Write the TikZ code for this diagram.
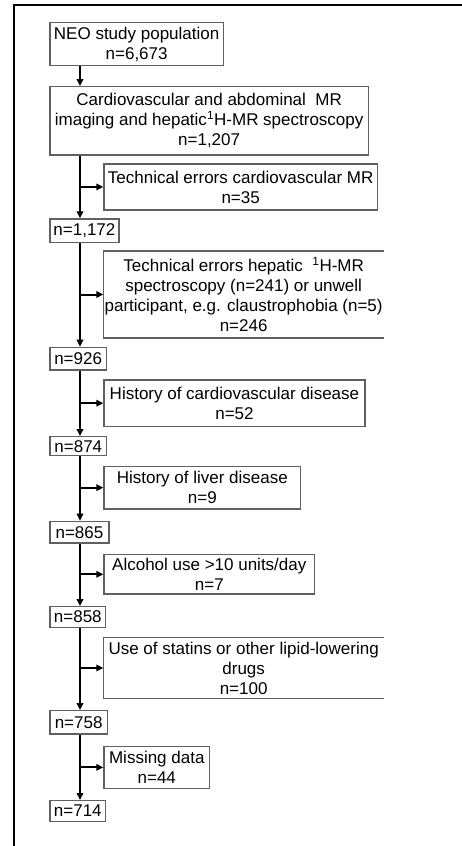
\documentclass[tikz,border=0pt]{standalone}
\usepackage{fontspec}
\setmainfont{Liberation Sans}
\usetikzlibrary{arrows.meta}
\definecolor{boxgray}{HTML}{606060}
\newcommand\boxfont{\fontsize{17}{20}\selectfont}
\begin{document}
\begin{tikzpicture}[x=1pt,y=-1pt,
  box/.style={draw=boxgray, line width=1.3pt, inner sep=0pt, anchor=north west, align=center, font=\boxfont},
  openbox/.style={box, draw=none},
  boxline/.style={draw=boxgray, line width=1.3pt},
  arr/.style={draw=black, line width=2pt, -{Triangle[length=7pt,width=6.5pt]}},
  frameline/.style={draw=black, line width=1.5pt}
]
\useasboundingbox (0,0) rectangle (462,846);
\fill[white] (0,0) rectangle (462,846);
% frame
\coordinate (fl) at (14,5);
\coordinate (fr) at (462,5);
\coordinate (fb) at (14,846);
\draw[frameline] (fr) -- (fl) -- (fb);
% trunk x
\coordinate (t) at (80,0);
% boxes
\node[box, minimum width=173.4pt, minimum height=43.3pt] (b1) at (49.3,21.7) {NEO study population\\n=6,673};
\node[box, minimum width=318.4pt, minimum height=68.3pt] (b2) at (49.3,86) {Cardiovascular and abdominal\ \ MR\\imaging and hepatic\textsuperscript{1}H-MR spectroscopy\\n=1,207};
\node[box, minimum width=273.4pt, minimum height=46pt] (b3) at (103.3,163.3) {Technical errors cardiovascular MR\\n=35};
\node[box, minimum width=69pt, minimum height=23.4pt] (n1) at (49.3,218.3) {n=1,172};
\node[openbox, minimum width=279.4pt, minimum height=85.7pt] (b4) at (103.3,251) {Technical errors hepatic\ \ \textsuperscript{1}H-MR\\spectroscopy (n=241) or unwell\\participant, e.g. claustrophobia (n=5)\\n=246};
\draw[boxline] (b4.north east) -- (b4.north west) -- (b4.south west) -- (b4.south east);
\node[box, minimum width=56.4pt, minimum height=22.6pt] (n2) at (49.3,346.7) {n=926};
\node[box, minimum width=261pt, minimum height=46.4pt] (b5) at (103.3,379.3) {History of cardiovascular disease\\n=52};
\node[box, minimum width=56.7pt, minimum height=19pt] (n3) at (49.3,436) {n=874};
\node[box, minimum width=196.7pt, minimum height=42.6pt] (b6) at (103.3,465.7) {History of liver disease\\n=9};
\node[box, minimum width=59pt, minimum height=21.6pt] (n4) at (49.3,520.7) {n=865};
\node[box, minimum width=210.7pt, minimum height=39.3pt] (b7) at (103.3,554) {Alcohol use >10 units/day\\n=7};
\node[box, minimum width=55.7pt, minimum height=20.7pt] (n5) at (49.3,606) {n=858};
\node[openbox, minimum width=279.4pt, minimum height=60pt] (b8) at (103.3,637.3) {Use of statins or other lipid-lowering\\drugs\\n=100};
\draw[boxline] (b8.north east) -- (b8.north west) -- (b8.south west) -- (b8.south east);
\node[box, minimum width=57.4pt, minimum height=23.3pt] (n6) at (49.3,710) {n=758};
\node[box, minimum width=105.7pt, minimum height=42pt] (b9) at (103.3,745.7) {Missing data\\n=44};
\node[box, minimum width=55.7pt, minimum height=20.7pt] (n7) at (49.3,800) {n=714};
% trunk arrows
\draw[arr] (b1.south -| t) -- (b2.north -| t);
\draw[arr] (b2.south -| t) -- (n1.north -| t);
\draw[arr] (n1.south -| t) -- (n2.north -| t);
\draw[arr] (n2.south -| t) -- (n3.north -| t);
\draw[arr] (n3.south -| t) -- (n4.north -| t);
\draw[arr] (n4.south -| t) -- (n5.north -| t);
\draw[arr] (n5.south -| t) -- (n6.north -| t);
\draw[arr] (n6.south -| t) -- (n7.north -| t);
% branch arrows
\draw[arr] (b3.west -| t) -- (b3.west);
\draw[arr] (b4.west -| t) -- (b4.west);
\draw[arr] (b5.west -| t) -- (b5.west);
\draw[arr] (b6.west -| t) -- (b6.west);
\draw[arr] (b7.west -| t) -- (b7.west);
\draw[arr] (b8.west -| t) -- (b8.west);
\draw[arr] (b9.west -| t) -- (b9.west);
\end{tikzpicture}
\end{document}
